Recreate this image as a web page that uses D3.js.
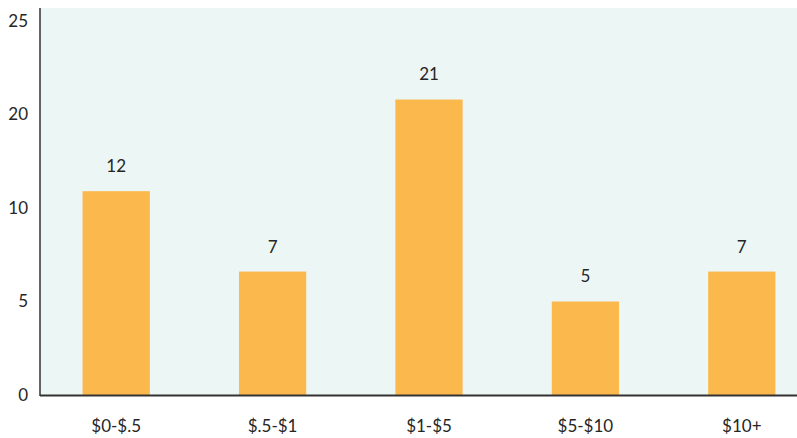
<!DOCTYPE html>
<html>
<head>
<meta charset="utf-8">
<script src="https://cdn.jsdelivr.net/npm/d3@7"></script>
<style>
  html, body { margin: 0; padding: 0; background: #ffffff; }
  svg { display: block; font-family: Lato, "Open Sans", sans-serif; }
</style>
</head>
<body>
<svg id="chart" width="797" height="438"></svg>
<script>
// ---- data ----
const categories = ["$0-$.5", "$.5-$1", "$1-$5", "$5-$10", "$10+"];
const values = [11.8, 6.6, 20.8, 5, 6.6];
const yTicks = [0, 5, 10, 20, 25];

// ---- layout ----
const W = 797, H = 438;
const plotLeft = 40, plotTop = 8, plotBottom = 395;
const fontSize = 17;
const textColor = "#262626";
const svg = d3.select("#chart");

const x = d3.scaleBand().domain(categories).range([38, 820]).paddingInner(0.57).paddingOuter(0.285);
const y = d3.scaleLinear()
  .domain(yTicks)
  .range(yTicks.map((d, i) => plotBottom - i * (plotBottom - 21) / (yTicks.length - 1)));

// background
svg.append("rect").attr("x", plotLeft).attr("y", plotTop).attr("width", W - plotLeft).attr("height", plotBottom - plotTop)
  .attr("fill", "#ecf6f4");

// bars
svg.selectAll("rect.bar").data(values).enter().append("rect")
  .attr("class", "bar")
  .attr("x", (d, i) => x(categories[i]))
  .attr("width", x.bandwidth())
  .attr("y", d => y(d))
  .attr("height", d => y(0) - y(d))
  .attr("fill", "#fbb84d");

// value labels
svg.selectAll("text.val").data(values).enter().append("text")
  .attr("class", "val")
  .attr("x", (d, i) => x(categories[i]) + x.bandwidth() / 2)
  .attr("y", d => y(d) - 25)
  .attr("dy", "0.35em")
  .attr("text-anchor", "middle")
  .attr("font-size", fontSize)
  .attr("fill", textColor)
  .text(d => Math.round(d));

// y axis
const yAxis = d3.axisLeft(y).tickValues(yTicks).tickSize(0).tickPadding(12).tickFormat(d => d);
const gy = svg.append("g").attr("transform", `translate(${plotLeft},0)`).call(yAxis);
gy.select(".domain").remove();
gy.selectAll("text").attr("font-size", fontSize).attr("fill", textColor).attr("font-family", "Lato, 'Open Sans', sans-serif");

// x axis
const xAxis = d3.axisBottom(x).tickSize(0).tickPadding(25);
const gx = svg.append("g").attr("transform", `translate(0,${plotBottom})`).call(xAxis);
gx.select(".domain").remove();
gx.selectAll("text").attr("font-size", fontSize).attr("fill", textColor).attr("font-family", "Lato, 'Open Sans', sans-serif");

// axis lines
svg.append("line").attr("x1", plotLeft).attr("x2", plotLeft).attr("y1", plotTop).attr("y2", plotBottom + 1)
  .attr("stroke", "#333").attr("stroke-width", 1.5);
svg.append("line").attr("x1", plotLeft).attr("x2", W).attr("y1", plotBottom + 0.5).attr("y2", plotBottom + 0.5)
  .attr("stroke", "#333").attr("stroke-width", 2);
</script>
</body>
</html>
